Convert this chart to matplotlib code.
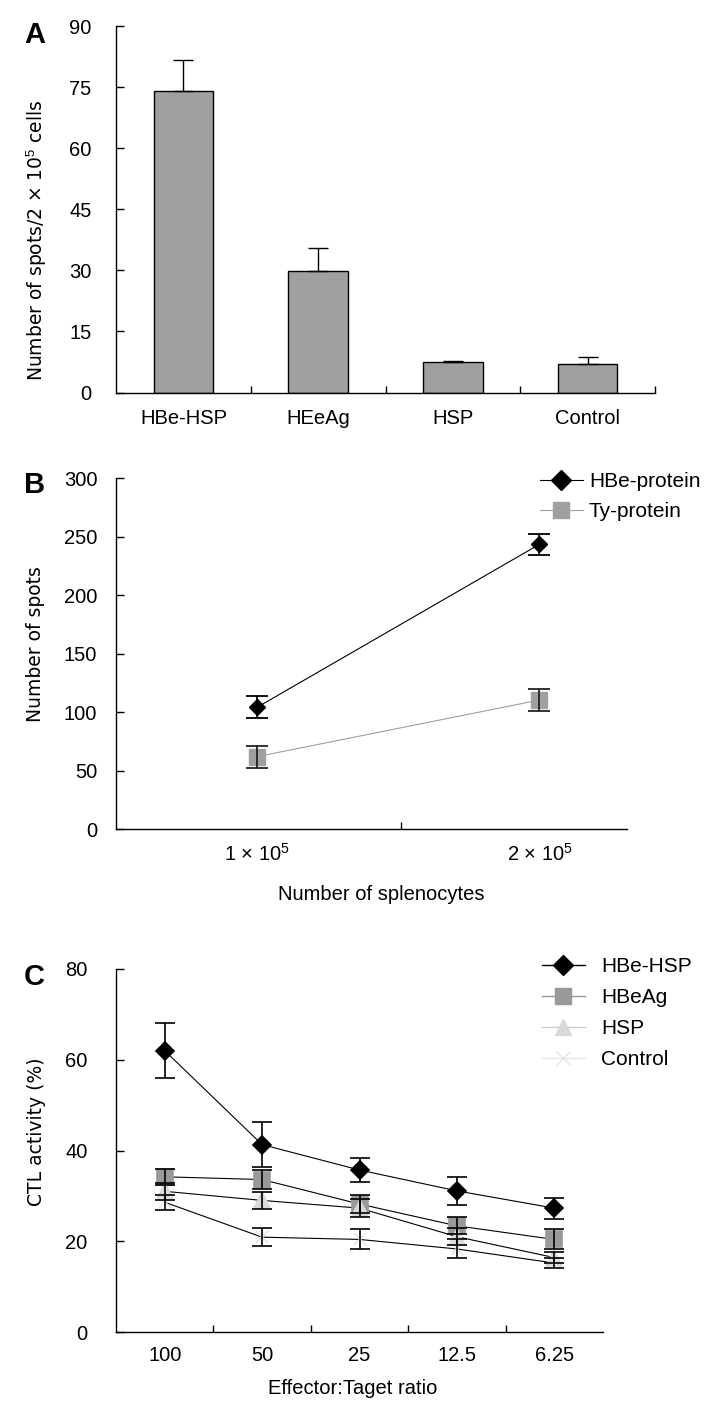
import matplotlib
matplotlib.use("Agg")
import matplotlib.pyplot as plt
from matplotlib.lines import Line2D
import numpy as np

plt.rcParams["mathtext.fontset"] = "custom"
plt.rcParams["mathtext.rm"] = "Liberation Sans"
plt.rcParams["mathtext.it"] = "Liberation Sans:italic"
plt.rcParams["mathtext.bf"] = "Liberation Sans:bold"
plt.rcParams["font.family"] = ["Liberation Sans", "DejaVu Sans"]

# ---------------- Data ----------------
# Panel A
a_categories = ["HBe-HSP", "HEeAg", "HSP", "Control"]
a_values = [74.1, 29.9, 7.4, 6.9]
a_errors = [7.6, 5.5, 0.3, 1.9]
a_yticks = [0, 15, 30, 45, 60, 75, 90]

# Panel B
b_x = [1, 2]
b_xticklabels = [r"1 × 10$^{5}$", r"2 × 10$^{5}$"]
b_hbe = [104.3, 243.6]
b_hbe_err = [9.5, 9.0]
b_ty = [62.1, 110.5]
b_ty_err = [9.3, 9.5]
b_yticks = [0, 50, 100, 150, 200, 250, 300]
b_series = ["HBe-protein", "Ty-protein"]

# Panel C
c_categories = ["100", "50", "25", "12.5", "6.25"]
c_series = ["HBe-HSP", "HBeAg", "HSP", "Control"]
c_hbe_hsp = [62.0, 41.3, 35.7, 31.1, 27.3]
c_hbe_hsp_err = [6.0, 4.9, 2.65, 3.05, 2.3]
c_hbeag = [34.2, 33.6, 28.2, 23.4, 20.4]
c_hbeag_err = [1.8, 2.0, 2.0, 1.9, 2.2]
c_hsp = [31.0, 29.0, 27.3, 21.0, 16.4]
c_hsp_err = [1.9, 1.9, 2.0, 1.9, 1.3]
c_control = [28.6, 20.9, 20.4, 18.3, 15.2]
c_control_err = [1.7, 1.95, 2.2, 2.1, 1.0]
c_yticks = [0, 20, 40, 60, 80]

# ---------------- Layout helpers ----------------
W, H = 721, 1412
fig = plt.figure(figsize=(W / 100, H / 100), dpi=100)


def px_axes(left, top, right, bottom):
    return fig.add_axes([left / W, 1 - bottom / H, (right - left) / W, (bottom - top) / H])


TICK_FS = 14.5
LEG_FS = 15
LABEL_FONT = ["DejaVu Sans"]


def style_axes(ax, ypad):
    for s in ["top", "right"]:
        ax.spines[s].set_visible(False)
    for s in ["left", "bottom"]:
        ax.spines[s].set_linewidth(1.0)
    ax.tick_params(axis="y", direction="in", length=5.5, width=1.0, pad=ypad,
                   labelsize=TICK_FS)
    ax.tick_params(axis="x", which="major", length=0, labelsize=TICK_FS)
    ax.tick_params(axis="x", which="minor", direction="in", length=5.3, width=1.0)


# ---------------- Panel A ----------------
axA = px_axes(116, 26, 655, 392.5)
xa = np.arange(len(a_categories))
axA.bar(xa, a_values, width=0.44, color="#a0a0a0", edgecolor="black", linewidth=1.0, zorder=2)
axA.errorbar(xa, a_values, yerr=[np.zeros(len(a_errors)), a_errors], fmt="none",
             ecolor="black", elinewidth=1.0, capsize=7.5, capthick=1.0, zorder=3)
axA.set_xlim(-0.5, 3.5)
axA.set_ylim(0, 90)
axA.set_yticks(a_yticks)
axA.set_xticks(xa)
axA.set_xticklabels(a_categories)
axA.set_xticks([0.5, 1.5, 2.5, 3.5], minor=True)
style_axes(axA, 17.5)
axA.tick_params(axis="x", which="major", pad=12)

# ---------------- Panel B ----------------
axB = px_axes(116, 478.3, 627, 829.3)
axB.plot(b_x, b_hbe, color="black", linewidth=0.8, marker="D", markersize=8.5,
         markerfacecolor="black", markeredgecolor="black", zorder=3)
axB.errorbar(b_x, b_hbe, yerr=b_hbe_err, fmt="none", ecolor="black", elinewidth=1.3,
             capsize=8, capthick=1.3, zorder=4)
axB.plot(b_x, b_ty, color="#a0a0a0", linewidth=0.8, marker="s", markersize=11,
         markerfacecolor="#a0a0a0", markeredgecolor="#a0a0a0", zorder=3)
axB.errorbar(b_x, b_ty, yerr=b_ty_err, fmt="none", ecolor="#222222", elinewidth=1.3,
             capsize=8, capthick=1.3, zorder=4)
axB.set_xlim(0.5, 2.31)
axB.set_ylim(0, 300)
axB.set_yticks(b_yticks)
axB.set_xticks(b_x)
axB.set_xticklabels(b_xticklabels)
axB.set_xticks([1.51], minor=True)
style_axes(axB, 13.5)
axB.tick_params(axis="x", which="major", pad=10)
axB.set_xlabel("Number of splenocytes", fontsize=TICK_FS)
axB.xaxis.set_label_coords(0.52, -0.16)

hB = [Line2D([], [], color="black", lw=0.8, marker="D", ms=10, mfc="black", mec="black"),
      Line2D([], [], color="#a0a0a0", lw=0.8, marker="s", ms=11, mfc="#a0a0a0", mec="#a0a0a0")]
axB.legend(hB, b_series, loc="upper left", bbox_to_anchor=(540 / W, 1 - 472 / H),
           bbox_transform=fig.transFigure, frameon=False, fontsize=LEG_FS,
           handlelength=2.05, handletextpad=0.3, labelspacing=0.55,
           borderpad=0, borderaxespad=0)

# ---------------- Panel C ----------------
axC = px_axes(116, 969, 603, 1332)
xc = np.arange(len(c_categories))
c_data = [
    (c_hbe_hsp, c_hbe_hsp_err, "D", "black", 9.0, "#000000"),
    (c_hbeag, c_hbeag_err, "s", "#999999", 11, "#999999"),
    (c_hsp, c_hsp_err, "^", "#d9d9d9", 11, "#cccccc"),
    (c_control, c_control_err, "x", "#e6e6e6", 9, "#e6e6e6"),
]
for vals, errs, mk, mc, ms, lc in c_data:
    axC.plot(xc, vals, color="black", linewidth=0.8, zorder=2)
for vals, errs, mk, mc, ms, lc in c_data:
    axC.plot(xc, vals, linestyle="none", marker=mk, markersize=ms, markerfacecolor=mc,
             markeredgecolor=mc, markeredgewidth=1.2, zorder=3)
for vals, errs, mk, mc, ms, lc in c_data:
    axC.errorbar(xc, vals, yerr=errs, fmt="none", ecolor="black", elinewidth=1.2,
                 capsize=7.5, capthick=1.2, zorder=4)
axC.set_xlim(-0.5, 4.5)
axC.set_ylim(0, 80)
axC.set_yticks(c_yticks)
axC.set_xticks(xc)
axC.set_xticklabels(c_categories)
axC.set_xticks([0.5, 1.5, 2.5, 3.5], minor=True)
style_axes(axC, 20.5)
axC.tick_params(axis="x", which="major", pad=10)
axC.set_xlabel("Effector:Taget ratio", fontsize=TICK_FS)
axC.xaxis.set_label_coords(0.487, -0.13)

hC = [Line2D([], [], color=lc, lw=1.0, marker=mk, ms=(ms + 1), mfc=mc, mec=mc)
      for vals, errs, mk, mc, ms, lc in c_data]
axC.legend(hC, c_series, loc="upper left", bbox_to_anchor=(542 / W, 1 - 957 / H),
           bbox_transform=fig.transFigure, frameon=False, fontsize=LEG_FS,
           handlelength=2.05, handletextpad=0.8, labelspacing=0.58,
           borderpad=0, borderaxespad=0)

# ---------------- Texts ----------------
fig.text(37 / W, 1 - 240 / H, r"Number of spots/2 × 10$^{5}$ cells", rotation=90,
         ha="center", va="center", fontsize=13.5, family=LABEL_FONT)
fig.text(36 / W, 1 - 644 / H, "Number of spots", rotation=90,
         ha="center", va="center", fontsize=13.5, family=LABEL_FONT)
fig.text(37 / W, 1 - 1132 / H, "CTL activity (%)", rotation=90,
         ha="center", va="center", fontsize=13.5, family=LABEL_FONT)

for letter, base in [("A", 42.7), ("B", 493), ("C", 985)]:
    fig.text(24 / W, 1 - base / H, letter, ha="left", va="baseline",
             fontsize=21, fontweight="bold")

fig.savefig("out.png", dpi=100)
